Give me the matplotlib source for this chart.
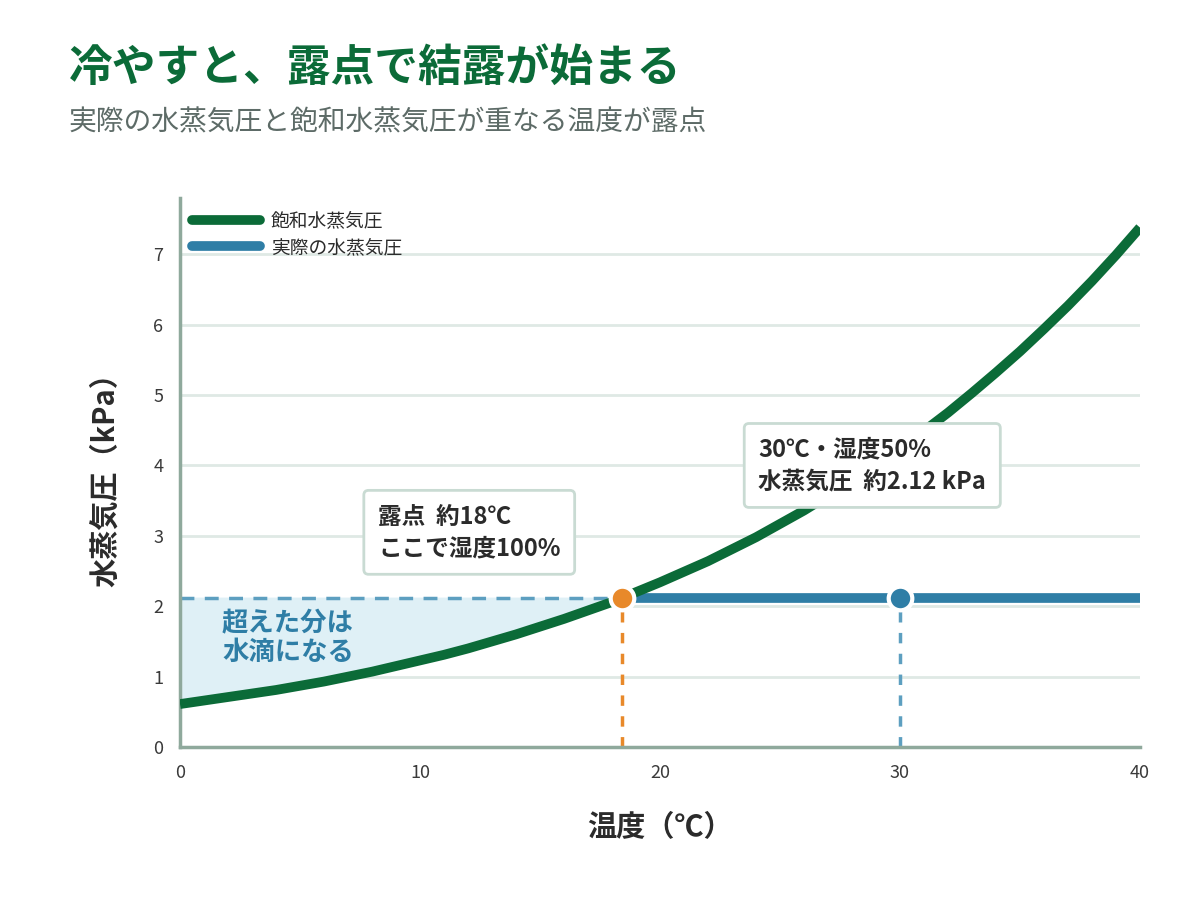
"""
Dew point chart: saturated vs actual water vapour pressure.
"""

import matplotlib
matplotlib.use('Agg')
import matplotlib.pyplot as plt

plt.rcParams['font.family'] = ['Noto Sans CJK JP', 'DejaVu Sans']
plt.rcParams['figure.dpi'] = 100

# Data
temps = list(range(0, 41))
sat_pressure = [0.61, 0.66, 0.71, 0.76, 0.81, 0.87, 0.93, 1.00, 1.07, 1.15,
                1.23, 1.31, 1.40, 1.50, 1.60, 1.71, 1.82, 1.94, 2.06, 2.20,
                2.34, 2.49, 2.64, 2.81, 2.98, 3.17, 3.36, 3.57, 3.78, 4.01,
                4.24, 4.49, 4.75, 5.03, 5.32, 5.62, 5.94, 6.27, 6.62, 6.99, 7.38]
actual_pressure = 2.12
dew_point = 18.4
air_temp = 30

xticks = [0, 10, 20, 30, 40]
yticks = [0, 1, 2, 3, 4, 5, 6, 7]

GREEN = '#0b6b38'
BLUE = '#2f7ea6'
BLUE_LIGHT = '#5d9fc0'
ORANGE = '#e8892a'
FILL = '#dff0f6'
GRID = '#dfe9e5'
SPINE = '#8fa99c'
TEXT = '#2b2b2b'

fig = plt.figure(figsize=(12, 9), facecolor='white')
ax = fig.add_axes([0.15, 0.17, 0.80, 0.61])

# condensation region
fill_x = [t for t in temps if t <= dew_point] + [dew_point]
fill_y = [p for t, p in zip(temps, sat_pressure) if t <= dew_point] + [actual_pressure]
ax.fill_between(fill_x, fill_y, actual_pressure, color=FILL, zorder=1)

# actual vapour pressure
ax.plot([0, dew_point], [actual_pressure, actual_pressure], color=BLUE_LIGHT,
        lw=2.5, ls=(0, (4, 3)), zorder=2)
ax.plot([dew_point, 40], [actual_pressure, actual_pressure], color=BLUE,
        lw=7, solid_capstyle='butt', zorder=3)

# saturated curve
ax.plot(temps, sat_pressure, color=GREEN, lw=7, solid_capstyle='butt',
        solid_joinstyle='round', zorder=4)

# vertical guides
ax.plot([dew_point, dew_point], [0, actual_pressure], color=ORANGE, lw=2.5,
        ls=(0, (3, 3)), zorder=2)
ax.plot([air_temp, air_temp], [0, actual_pressure], color=BLUE_LIGHT, lw=2.5,
        ls=(0, (3, 3)), zorder=2)

# markers
ax.plot(dew_point, actual_pressure, 'o', ms=17, color=ORANGE, mec='white', mew=3, zorder=6)
ax.plot(air_temp, actual_pressure, 'o', ms=17, color=BLUE, mec='white', mew=3, zorder=6)

# legend
ax.plot([], [], color=GREEN, lw=7, solid_capstyle='round', label='飽和水蒸気圧')
ax.plot([], [], color=BLUE, lw=7, solid_capstyle='round', label='実際の水蒸気圧')
leg = ax.legend(loc='upper left', bbox_to_anchor=(0.0, 1.0), frameon=False,
                fontsize=13.5, handlelength=3.6, handletextpad=0.6, labelspacing=0.3,
                borderaxespad=0.25)
for t in leg.get_texts():
    t.set_color(TEXT)

# annotations
box = dict(boxstyle='round,pad=0.6,rounding_size=0.2', fc='white', ec='#c9dbd3', lw=2)
ax.text(8.25, 3.05, '露点  約18℃\nここで湿度100%', fontsize=17, fontweight='bold',
        color=TEXT, ha='left', va='center', linespacing=1.4, bbox=box, zorder=7)
ax.text(24.1, 4.0, '30℃・湿度50%\n水蒸気圧  約2.12 kPa', fontsize=17, fontweight='bold',
        color=TEXT, ha='left', va='center', linespacing=1.4, bbox=box, zorder=7)
ax.text(1.75, 1.55, '超えた分は\n水滴になる', fontsize=19, fontweight='bold',
        color=BLUE, ha='left', va='center', linespacing=1.1, zorder=7)

# axes styling
ax.set_xlim(0, 40)
ax.set_ylim(0, 7.8)
ax.set_xticks(xticks)
ax.set_yticks(yticks)
ax.tick_params(length=0, labelsize=13, colors='#3a3a3a', pad=12)
ax.grid(axis='y', color=GRID, lw=2)
ax.set_axisbelow(True)
for s in ['top', 'right']:
    ax.spines[s].set_visible(False)
for s in ['left', 'bottom']:
    ax.spines[s].set_color(SPINE)
    ax.spines[s].set_linewidth(2.5)

ax.set_xlabel('温度（℃）', fontsize=21, fontweight='bold', color=TEXT, labelpad=22)
ax.set_ylabel('水蒸気圧（kPa）', fontsize=21, fontweight='bold', color=TEXT, labelpad=24)

# titles
fig.text(0.057, 0.925, '冷やすと、露点で結露が始まる', fontsize=31.5, fontweight='bold',
         color=GREEN, ha='left', va='center')
fig.text(0.057, 0.864, '実際の水蒸気圧と飽和水蒸気圧が重なる温度が露点', fontsize=20,
         color='#5d6b67', ha='left', va='center')

plt.savefig('out.png', facecolor='white')
plt.close()
